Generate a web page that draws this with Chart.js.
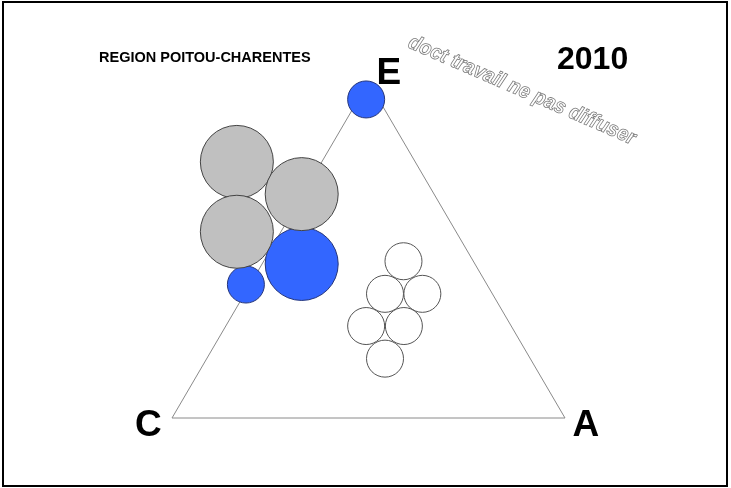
<!DOCTYPE html>
<html>
<head>
<meta charset="utf-8">
<script src="https://cdn.jsdelivr.net/npm/chart.js@4.4.1/dist/chart.umd.min.js"></script>
<style>
  html, body { margin: 0; padding: 0; background: #ffffff; }
  #wrap { width: 731px; height: 488px; position: relative; }
</style>
</head>
<body>
<div id="wrap"><canvas id="chart"></canvas></div>
<script>
// Texts
const regionTitle = 'REGION POITOU-CHARENTES';
const yearLabel = '2010';
const draftNote = 'doct travail ne pas diffuser';

// Triangle vertices (side = 100 units)
const vertexNames = ['C', 'A', 'E'];
const vertexX = [0, 100, 50];
const vertexY = [0, 0, 86.6];

// Grey bubbles
const grayX = [16.5, 33.0, 16.5];
const grayY = [66.0, 57.7, 48.0];
const grayR = [36.5, 36.5, 36.5];

// Blue bubbles
const blueX = [33.0, 18.8, 49.4];
const blueY = [39.7, 34.4, 82.1];
const blueR = [36.5, 18.5, 18.5];

// White bubbles
const whiteX = [58.9, 54.2, 63.7, 49.4, 59.0, 54.2];
const whiteY = [40.4, 32.0, 32.0, 23.7, 23.7, 15.3];
const whiteR = [18.5, 18.5, 18.5, 18.5, 18.5, 18.5];

const toPoints = (xs, ys, rs) => xs.map((x, i) => ({ x: x, y: ys[i], r: rs[i] }));

// closed outline C -> A -> E -> C
const outlineX = vertexX.concat([vertexX[0]]);
const outlineY = vertexY.concat([vertexY[0]]);
const outline = outlineX.map((x, i) => ({ x: x, y: outlineY[i] }));

const decor = {
  id: 'decor',
  beforeDraw(chart) {
    const ctx = chart.ctx;
    ctx.save();
    ctx.fillStyle = '#ffffff';
    ctx.fillRect(0, 0, chart.width, chart.height);
    ctx.restore();
  },
  afterDraw(chart) {
    const ctx = chart.ctx;
    const xs = chart.scales.x, ys = chart.scales.y;
    ctx.save();

    // outer frame
    ctx.strokeStyle = '#000000';
    ctx.lineWidth = 2;
    ctx.strokeRect(3, 2, 724, 484);

    // heading and year
    ctx.fillStyle = '#000000';
    ctx.textBaseline = 'alphabetic';
    ctx.textAlign = 'left';
    ctx.font = 'bold 14.5px "Liberation Sans", Arial, sans-serif';
    ctx.fillText(regionTitle, 99, 61.5);
    ctx.font = 'bold 32px "Liberation Sans", Arial, sans-serif';
    ctx.fillText(yearLabel, 557, 69);

    // vertex labels
    ctx.font = 'bold 37px "Liberation Sans", Arial, sans-serif';
    const offsets = [[-37, 18], [7.5, 18], [8, 2]];
    vertexNames.forEach((name, i) => {
      const px = xs.getPixelForValue(vertexX[i]);
      const py = ys.getPixelForValue(vertexY[i]);
      ctx.fillText(name, px + offsets[i][0], py + offsets[i][1]);
    });

    // outlined draft note
    ctx.translate(407, 47);
    ctx.rotate(23.5 * Math.PI / 180);
    ctx.scale(0.92, 1);
    ctx.font = 'italic bold 21px "Liberation Sans", Arial, sans-serif';
    ctx.fillStyle = '#ffffff';
    ctx.strokeStyle = '#7a7a7a';
    ctx.lineWidth = 0.8;
    ctx.fillText(draftNote, 0, 0);
    ctx.strokeText(draftNote, 0, 0);
    ctx.restore();
  }
};

new Chart(document.getElementById('chart'), {
  type: 'bubble',
  data: {
    datasets: [
      {
        data: toPoints(grayX, grayY, grayR),
        backgroundColor: '#c0c0c0',
        borderColor: '#444444',
        borderWidth: 1,
        hoverRadius: 0,
        order: 1
      },
      {
        data: toPoints(blueX, blueY, blueR),
        backgroundColor: '#3366ff',
        borderColor: '#26367a',
        borderWidth: 1,
        hoverRadius: 0,
        order: 1
      },
      {
        data: toPoints(whiteX, whiteY, whiteR),
        backgroundColor: '#ffffff',
        borderColor: '#555555',
        borderWidth: 1,
        hoverRadius: 0,
        order: 1
      },
      {
        type: 'scatter',
        data: outline,
        showLine: true,
        fill: false,
        borderColor: '#8a8a8a',
        borderWidth: 1,
        pointRadius: 0,
        tension: 0,
        order: 5
      }
    ]
  },
  options: {
    responsive: true,
    maintainAspectRatio: false,
    animation: false,
    events: [],
    layout: { padding: 0, autoPadding: false },
    plugins: { legend: { display: false }, tooltip: { enabled: false }, title: { display: false } },
    scales: {
      x: { type: 'linear', min: -43.77, max: 142.24, display: false },
      y: { type: 'linear', min: -18.04, max: 107.73, display: false }
    }
  },
  plugins: [decor]
});
</script>
</body>
</html>
